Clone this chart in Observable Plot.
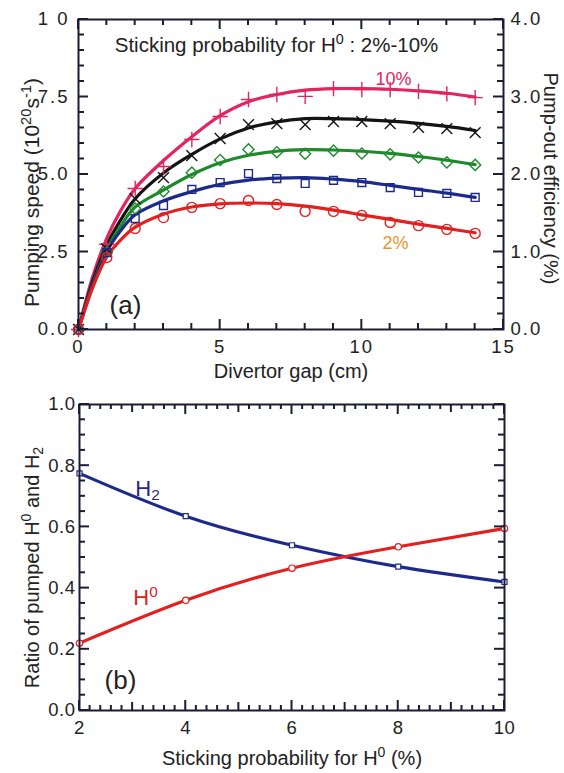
<!DOCTYPE html>
<html><head><meta charset="utf-8">
<script src="https://cdn.jsdelivr.net/npm/d3@7"></script>
<script src="https://cdn.jsdelivr.net/npm/@observablehq/plot@0.6"></script>
<style>
body{margin:0;background:#fff;width:564px;height:773px;overflow:hidden;font-family:"Liberation Sans",Arial,sans-serif}
#chart svg{display:block;overflow:visible}
.tl text{letter-spacing:2px}
.tlb text{letter-spacing:0.5px}
</style></head><body><div id="chart"></div>
<script>
// ---------- Panel (a) data ----------
const gap = [0,1,2,3,4,5,6,7,8,9,10,11,12,13,14];
const speed10 = [0,2.75,4.55,5.26,6.13,6.87,7.42,7.58,7.52,7.77,7.74,7.74,7.68,7.6,7.48];
const speed8  = [0,2.6,4.22,4.9,5.61,6.16,6.61,6.64,6.61,6.71,6.71,6.64,6.52,6.48,6.35];
const speed6  = [0,2.5,3.9,4.45,5.06,5.47,5.81,5.72,5.67,5.77,5.68,5.65,5.55,5.39,5.31];
const speed4  = [0,2.48,3.58,4.0,4.52,4.74,5.03,4.87,4.71,4.81,4.74,4.58,4.42,4.39,4.26];
const speed2  = [0,2.32,3.26,3.61,3.94,4.06,4.16,4.03,3.81,3.81,3.68,3.45,3.35,3.23,3.1];
// fitted curves
const fitGap = [0,0.5,1,1.5,2,3,4,5,6,7,8,9,10,11,12,13,14];
const fit10 = [0,1.7,2.95,3.85,4.55,5.45,6.22,6.9,7.35,7.58,7.72,7.77,7.77,7.75,7.7,7.62,7.5];
const fit8  = [0,1.55,2.72,3.55,4.22,5.05,5.65,6.15,6.5,6.7,6.8,6.8,6.77,6.72,6.65,6.55,6.42];
const fit6  = [0,1.45,2.58,3.35,3.95,4.5,5.0,5.38,5.62,5.75,5.8,5.79,5.75,5.68,5.58,5.46,5.32];
const fit4  = [0,1.42,2.52,3.2,3.7,4.15,4.45,4.68,4.82,4.88,4.9,4.85,4.77,4.65,4.52,4.4,4.26];
const fit2  = [0,1.35,2.35,2.9,3.3,3.72,3.95,4.05,4.08,4.06,3.98,3.85,3.7,3.55,3.4,3.26,3.12];
const seriesNames = ["10%","8%","6%","4%","2%"];
const seriesColors = ["#e2245f","#141414","#1e8a2c","#1d2a8c","#e3201f"];
const seriesSymbols = ["plus","times","diamond2","square2","circle"];
const xTicksA = [0,5,10,15];
const xMinorA = [1,2,3,4,6,7,8,9,11,12,13,14];
const yTicksA = [0,2.5,5,7.5,10];
const yMinorA = [0.5,1,1.5,2,3,3.5,4,4.5,5.5,6,6.5,7,8,8.5,9,9.5];
const effTicks = [0,1,2,3,4];
const effMinor = [0.2,0.4,0.6,0.8,1.2,1.4,1.6,1.8,2.2,2.4,2.6,2.8,3.2,3.4,3.6,3.8];

// ---------- Panel (b) data ----------
const stick = [2,4,6,8,10];
const ratioH2 = [0.775,0.635,0.54,0.47,0.42];
const ratioH0 = [0.22,0.36,0.465,0.535,0.595];
const xTicksB = [2,4,6,8,10];
const xMidB = [3,5,7,9];
const xMinorB = [2.2,2.4,2.6,2.8,3.2,3.4,3.6,3.8,4.2,4.4,4.6,4.8,5.2,5.4,5.6,5.8,6.2,6.4,6.6,6.8,7.2,7.4,7.6,7.8,8.2,8.4,8.6,8.8,9.2,9.4,9.6,9.8];
const yTicksB = [0,0.2,0.4,0.6,0.8,1.0];
const yMinorB = [0.05,0.1,0.15,0.25,0.3,0.35,0.45,0.5,0.55,0.65,0.7,0.75,0.85,0.9,0.95];

const INK = "#1c1c34";
const FONT = "Liberation Sans, Arial, sans-serif";

const ptsA = seriesNames.flatMap((s,i)=>gap.map((g,j)=>({s, gap:g, v:[speed10,speed8,speed6,speed4,speed2][i][j]})));
const fitA = seriesNames.flatMap((s,i)=>fitGap.map((g,j)=>({s, gap:g, v:[fit10,fit8,fit6,fit4,fit2][i][j]})));

function labels(kind, anchor, values, fmt, pad, cls="tl") {
  const f = kind==="x" ? Plot.axisX : Plot.axisY;
  return f(values, {anchor, tickSize:0, tickPadding:pad, tickFormat:fmt, label:null, fontSize:18.5, fill:"#222", className:cls});
}
function txt(t, o) { return Plot.text([t], {text:d=>d, fontFamily:FONT, textAnchor:"middle", lineAnchor:"middle", ...o}); }

function rich(svg){
  d3.select(svg).selectAll("text").each(function(){
    const t = this.textContent;
    if (!/[\^_]\{/.test(t)) return;
    const el = d3.select(this); el.text(null);
    t.split(/([\^_]\{[^}]*\})/).forEach(part=>{
      if (!part) return;
      const m = part.match(/^([\^_])\{([^}]*)\}$/);
      if (m) el.append("tspan").attr("font-size","70%").attr("baseline-shift", m[1]==="^"?"55%":"-25%").text(m[2]);
      else el.append("tspan").text(part);
    });
  });
  return svg;
}

// inward tick marks, placed with the plot's own x / y scales
function inwardTicks(svg, specs) {
  const sx = svg.scale("x"), sy = svg.scale("y");
  const [xl, xr] = sx.range, [yb, yt] = sy.range;
  const g = d3.select(svg).append("g").attr("stroke", INK).attr("stroke-width", 2).attr("stroke-linecap","butt");
  for (const [anchor, values, len] of specs) {
    for (const v of values) {
      if (anchor==="bottom" || anchor==="top") {
        const x = sx.apply(v), y0 = anchor==="bottom" ? yb : yt, y1 = anchor==="bottom" ? yb - len : yt + len;
        g.append("line").attr("x1",x).attr("x2",x).attr("y1",y0).attr("y2",y1);
      } else {
        const y = sy.apply(v), x0 = anchor==="left" ? xl : xr, x1 = anchor==="left" ? xl + len : xr - len;
        g.append("line").attr("x1",x0).attr("x2",x1).attr("y1",y).attr("y2",y);
      }
    }
  }
  return svg;
}

const chartA = Plot.plot({
  width:564, height:385, marginLeft:78, marginRight:61, marginTop:19, marginBottom:56,
  style:{fontFamily:FONT, background:"transparent"},
  x:{domain:[0,15], axis:null},
  y:{domain:[0,10], axis:null},
  color:{domain:seriesNames, range:seriesColors},
  symbol:{domain:seriesNames, range:seriesSymbols},
  marks:[
    Plot.line(fitA, {x:"gap", y:"v", z:"s", stroke:"s", strokeWidth:3.2, curve:"catmull-rom"}),
    Plot.dot(ptsA, {x:"gap", y:"v", stroke:"s", symbol:"s", r:5, strokeWidth:1.4}),
    Plot.frame({stroke:INK, strokeWidth:2}),
    labels("x","bottom",xTicksA,d=>String(d),10),
    labels("y","left",yTicksA,d=>d===10?"1 0":d.toFixed(1),9),
    labels("y","right",effTicks.map(v=>v*2.5),d=>(d/2.5).toFixed(1),7),
    txt("Pumping speed (10^{20}s^{-1})", {frameAnchor:"left", dx:-46, dy:18, rotate:-90, fontSize:21, fill:"#222"}),
    txt("Pump-out efficiency (%)", {frameAnchor:"right", dx:47, dy:4, rotate:90, fontSize:20, fill:"#222"}),
    txt("Divertor gap (cm)", {frameAnchor:"bottom", dy:42, fontSize:20, fill:"#222"}),
    txt("Sticking probability for H^{0} : 2%-10%", {frameAnchor:"top-left", dx:198, dy:26, fontSize:20.5, fill:"#222"}),
    txt("10%", {frameAnchor:"top-left", dx:315, dy:60, fontSize:18, fill:"#e2245f"}),
    txt("2%", {frameAnchor:"top-left", dx:317, dy:224, fontSize:18, fill:"#e8942e"}),
    txt("(a)", {frameAnchor:"top-left", dx:47, dy:286, fontSize:26, fill:"#222"})
  ]
});
inwardTicks(chartA, [
  ["bottom", xTicksA, 10], ["top", xTicksA, 10], ["bottom", xMinorA, 6], ["top", xMinorA, 6],
  ["left", yTicksA, 10], ["left", yMinorA, 6],
  ["right", effTicks.map(v=>v*2.5), 10], ["right", effMinor.map(v=>v*2.5), 6]
]);

const ptsB = [
  ...stick.map((x,i)=>({s:"H2", x, v:ratioH2[i]})),
  ...stick.map((x,i)=>({s:"H0", x, v:ratioH0[i]}))
];

const chartB = Plot.plot({
  width:564, height:388, marginLeft:79, marginRight:60, marginTop:19, marginBottom:63,
  style:{fontFamily:FONT, background:"transparent"},
  x:{domain:[2,10], axis:null},
  y:{domain:[0,1], axis:null},
  color:{domain:["H2","H0"], range:["#1d2a8c","#e3201f"]},
  symbol:{domain:["H2","H0"], range:["square2","circle"]},
  marks:[
    Plot.line(ptsB, {x:"x", y:"v", z:"s", stroke:"s", strokeWidth:3.2, curve:"natural"}),
    Plot.dot(ptsB, {x:"x", y:"v", stroke:"s", symbol:"s", r:3.2, strokeWidth:1.2, fill:"white"}),
    Plot.frame({stroke:INK, strokeWidth:2}),
    labels("x","bottom",xTicksB,d=>String(d),10,"tlb"),
    labels("y","left",yTicksB,d=>d.toFixed(1),4,"tlb"),
    txt("Ratio of pumped H^{0} and H_{2}", {frameAnchor:"left", dx:-47, dy:10, rotate:-90, fontSize:20, fill:"#222"}),
    txt("Sticking probability for H^{0} (%)", {frameAnchor:"bottom", dy:48, fontSize:20, fill:"#222"}),
    txt("H_{2}", {frameAnchor:"top-left", dx:68, dy:84, fontSize:22, fill:"#1d2a8c"}),
    txt("H^{0}", {frameAnchor:"top-left", dx:66, dy:193, fontSize:22, fill:"#e3201f"}),
    txt("(b)", {frameAnchor:"top-left", dx:41, dy:276, fontSize:26, fill:"#222"})
  ]
});
inwardTicks(chartB, [
  ["bottom", xTicksB, 10], ["top", xTicksB, 10], ["bottom", xMidB, 8], ["top", xMidB, 8],
  ["bottom", xMinorB, 5], ["top", xMinorB, 5],
  ["left", yTicksB, 10], ["left", yMinorB, 6], ["right", yTicksB, 10], ["right", yMinorB, 6]
]);

document.getElementById("chart").append(rich(chartA), rich(chartB));
</script>
</body></html>
